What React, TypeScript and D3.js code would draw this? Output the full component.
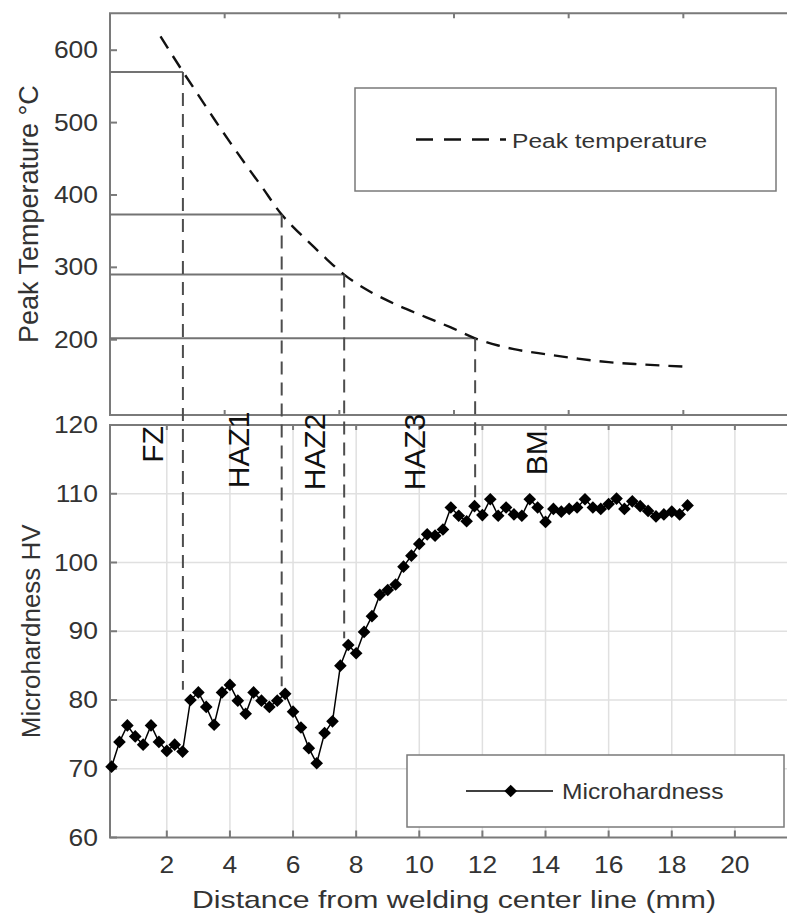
import React from 'react';
import * as d3 from 'd3';

// Microhardness profile (distance in mm, HV)
const distance = [
  0.25, 0.5, 0.75, 1.0, 1.25, 1.5, 1.75, 2.0, 2.25, 2.5, 2.75, 3.0, 3.25, 3.5, 3.75, 4.0,
  4.25, 4.5, 4.75, 5.0, 5.25, 5.5, 5.75, 6.0, 6.25, 6.5, 6.75, 7.0, 7.25, 7.5, 7.75, 8.0,
  8.25, 8.5, 8.75, 9.0, 9.25, 9.5, 9.75, 10.0, 10.25, 10.5, 10.75, 11.0, 11.25, 11.5, 11.75,
  12.0, 12.25, 12.5, 12.75, 13.0, 13.25, 13.5, 13.75, 14.0, 14.25, 14.5, 14.75, 15.0, 15.25,
  15.5, 15.75, 16.0, 16.25, 16.5, 16.75, 17.0, 17.25, 17.5, 17.75, 18.0, 18.25, 18.5,
];
const hardness = [
  70.3, 73.9, 76.3, 74.7, 73.5, 76.3, 73.9, 72.6, 73.5, 72.5, 80.0, 81.1, 79.0, 76.4, 81.1, 82.2,
  79.9, 78.0, 81.1, 79.9, 79.0, 79.9, 80.9, 78.3, 76.0, 73.0, 70.8, 75.2, 76.9, 85.0, 88.0, 86.8,
  89.9, 92.2, 95.3, 96.0, 96.8, 99.4, 101.0, 102.7, 104.1, 103.9, 104.8, 108.0, 106.8, 106.0, 108.2,
  106.9, 109.2, 106.8, 108.0, 107.0, 106.8, 109.2, 108.0, 105.9, 107.8, 107.4, 107.8, 108.0, 109.2,
  108.0, 107.8, 108.5, 109.3, 107.8, 108.9, 108.2, 107.5, 106.7, 107.0, 107.4, 107.0, 108.3,
];

// Peak temperature curve (distance in mm, °C)
const peakDist = [
  1.8, 2.5, 3.0, 3.5, 4.0, 4.5, 5.0, 5.64, 6.0, 6.5, 7.0, 7.62, 8.0, 8.5, 9.0, 9.5,
  10.0, 10.5, 11.0, 11.77, 12.5, 13.0, 14.0, 15.0, 16.0, 17.0, 18.35,
];
const peakTemp = [
  619, 571, 538, 505, 473, 442, 412, 373, 356, 335, 314, 290, 278, 265, 254, 244,
  235, 226, 217, 202, 192, 187, 180, 174, 169, 166, 163,
];

// zone boundaries
const boundaryX = [2.51, 5.64, 7.62, 11.77];
const boundaryTemp = [570, 373, 290, 202];
const boundaryHV = [81.5, 82, 89, 109.5];

// zone labels
const zoneNames = ['FZ', 'HAZ1', 'HAZ2', 'HAZ3', 'BM'];
const zoneX = [1.87, 4.6, 7.0, 10.17, 14.04];
const zoneY = [114.5, 110.8, 110.5, 110.5, 112.7];

const distTicks = [2, 4, 6, 8, 10, 12, 14, 16, 18, 20];
const topTicks = [1, 2, 3, 4, 5];
const tempTicks = [200, 300, 400, 500, 600];
const hvTicks = [60, 70, 80, 90, 100, 110, 120];

const W = 787;
const H = 913;
const left = 110;
const right = 798;
const top1 = 13.3;
const bottom1 = 415;
const top2 = 425;
const bottom2 = 837.5;

const FONT = '"Liberation Sans", Arial, sans-serif';
const AXIS = '#7a7a7a';
const TXT = '#333';

const HText = ({ x, y, size, sx = 1.15, anchor = 'start', fill = TXT, children }: any) => (
  <text
    transform={`translate(${x},${y}) scale(${sx},1)`}
    fontSize={size}
    fontFamily={FONT}
    textAnchor={anchor}
    fill={fill}
  >
    {children}
  </text>
);

const App = () => {
  const x = d3.scaleLinear().domain([0.2, 22]).range([left, right]);
  const xTop = d3.scaleLinear().domain([0, 6]).range([left, right]);
  const yT = d3.scaleLinear().domain([96, 651]).range([bottom1, top1]);
  const yH = d3.scaleLinear().domain([60, 120]).range([bottom2, top2]);

  const peakLine = d3
    .line<number>()
    .x((d, i) => x(peakDist[i]))
    .y((d) => yT(d))
    .curve(d3.curveMonotoneX);

  const hvLine = d3
    .line<number>()
    .x((d, i) => x(distance[i]))
    .y((d) => yH(d));

  const diamond = d3.symbol(d3.symbolSquare, 80)();

  return (
    <svg
      width={W}
      height={H}
      style={{ position: 'absolute', left: 0, top: 0, background: '#fff' }}
    >
      <rect width={W} height={H} fill="#fff" />

      {/* ---------- top panel ---------- */}
      {tempTicks.map((t) => (
        <g key={'tt' + t}>
          <line x1={left} x2={left + 7} y1={yT(t)} y2={yT(t)} stroke={AXIS} strokeWidth={2} />
          <HText x={98} y={yT(t) + 8} size={23} anchor="end">
            {t}
          </HText>
        </g>
      ))}
      {topTicks.map((t) => (
        <g key={'xt' + t}>
          <line x1={xTop(t)} x2={xTop(t)} y1={top1} y2={top1 + 5} stroke={AXIS} strokeWidth={2} />
          <line x1={xTop(t)} x2={xTop(t)} y1={bottom1} y2={bottom1 - 5} stroke={AXIS} strokeWidth={2} />
        </g>
      ))}
      <path
        d={`M${right},${top1}H${left}V${bottom1}H${right}`}
        fill="none"
        stroke={AXIS}
        strokeWidth={2}
      />

      {boundaryX.map((b, i) => (
        <line
          key={'hl' + i}
          x1={x(0.2)}
          x2={x(b)}
          y1={yT(boundaryTemp[i])}
          y2={yT(boundaryTemp[i])}
          stroke="#737373"
          strokeWidth={2}
        />
      ))}

      <path
        d={peakLine(peakTemp) || ''}
        fill="none"
        stroke="#111"
        strokeWidth={2.4}
        strokeDasharray="14,9"
      />

      {/* top legend */}
      <rect x={355} y={88} width={421} height={103} fill="#fff" stroke={AXIS} strokeWidth={1.5} />
      <line x1={416} x2={506} y1={139.5} y2={139.5} stroke="#111" strokeWidth={2.4} strokeDasharray="17,11" />
      <HText x={512} y={148} size={21} sx={1.17}>
        Peak temperature
      </HText>

      {/* ---------- bottom panel ---------- */}
      {distTicks.map((t) => (
        <line key={'gx' + t} x1={x(t)} x2={x(t)} y1={top2} y2={bottom2} stroke="#e0e0e0" strokeWidth={1.5} />
      ))}
      {hvTicks
        .filter((t) => t > 60 && t < 120)
        .map((t) => (
          <line key={'gy' + t} x1={left} x2={right} y1={yH(t)} y2={yH(t)} stroke="#e0e0e0" strokeWidth={1.5} />
        ))}

      {hvTicks.map((t) => (
        <g key={'ht' + t}>
          <line x1={left} x2={left + 7} y1={yH(t)} y2={yH(t)} stroke={AXIS} strokeWidth={2} />
          <HText x={98} y={yH(t) + 8} size={23} anchor="end">
            {t}
          </HText>
        </g>
      ))}
      {distTicks.map((t) => (
        <g key={'dt' + t}>
          <line x1={x(t)} x2={x(t)} y1={bottom2} y2={bottom2 - 7} stroke={AXIS} strokeWidth={2} />
          <line x1={x(t)} x2={x(t)} y1={top2} y2={top2 + 5} stroke={AXIS} strokeWidth={2} />
          <HText x={x(t)} y={873} size={23} anchor="middle">
            {t}
          </HText>
        </g>
      ))}
      <path
        d={`M${right},${top2}H${left}V${bottom2}H${right}`}
        fill="none"
        stroke={AXIS}
        strokeWidth={2}
      />

      {/* vertical boundary lines */}
      {boundaryX.map((b, i) => (
        <line
          key={'vl' + i}
          x1={x(b)}
          x2={x(b)}
          y1={yT(boundaryTemp[i])}
          y2={yH(boundaryHV[i])}
          stroke="#4d4d4d"
          strokeWidth={2}
          strokeDasharray="13,8"
        />
      ))}

      <path d={hvLine(hardness) || ''} fill="none" stroke="#000" strokeWidth={1.5} />
      {hardness.map((h, i) => (
        <path
          key={'m' + i}
          d={diamond || ''}
          transform={`translate(${x(distance[i])},${yH(h)}) rotate(45)`}
          fill="#000"
        />
      ))}

      {/* bottom legend */}
      <rect x={407} y={755} width={377} height={72} fill="#fff" stroke={AXIS} strokeWidth={1.5} />
      <line x1={466} x2={553} y1={791} y2={791} stroke="#000" strokeWidth={1.5} />
      <path d={diamond || ''} transform="translate(510.7,791) rotate(45)" fill="#000" />
      <HText x={562} y={799} size={22} sx={1.12}>
        Microhardness
      </HText>

      {/* zone labels */}
      {zoneNames.map((z, i) => (
        <text
          key={z}
          transform={`translate(${x(zoneX[i])},${yH(zoneY[i])}) rotate(-90)`}
          fontSize={30}
          fontFamily={FONT}
          fill="#111"
        >
          {z}
        </text>
      ))}

      {/* axis titles */}
      <text
        transform={`translate(38,${(top1 + bottom1) / 2}) rotate(-90)`}
        fontSize={27}
        fontFamily={FONT}
        textAnchor="middle"
        fill={TXT}
      >
        Peak Temperature °C
      </text>
      <text
        transform={`translate(40,${(top2 + bottom2) / 2}) rotate(-90)`}
        fontSize={26}
        fontFamily={FONT}
        textAnchor="middle"
        fill={TXT}
      >
        Microhardness HV
      </text>
      <HText x={(left + right) / 2} y={908} size={24} sx={1.26} anchor="middle">
        Distance from welding center line (mm)
      </HText>
    </svg>
  );
};

export default App;
